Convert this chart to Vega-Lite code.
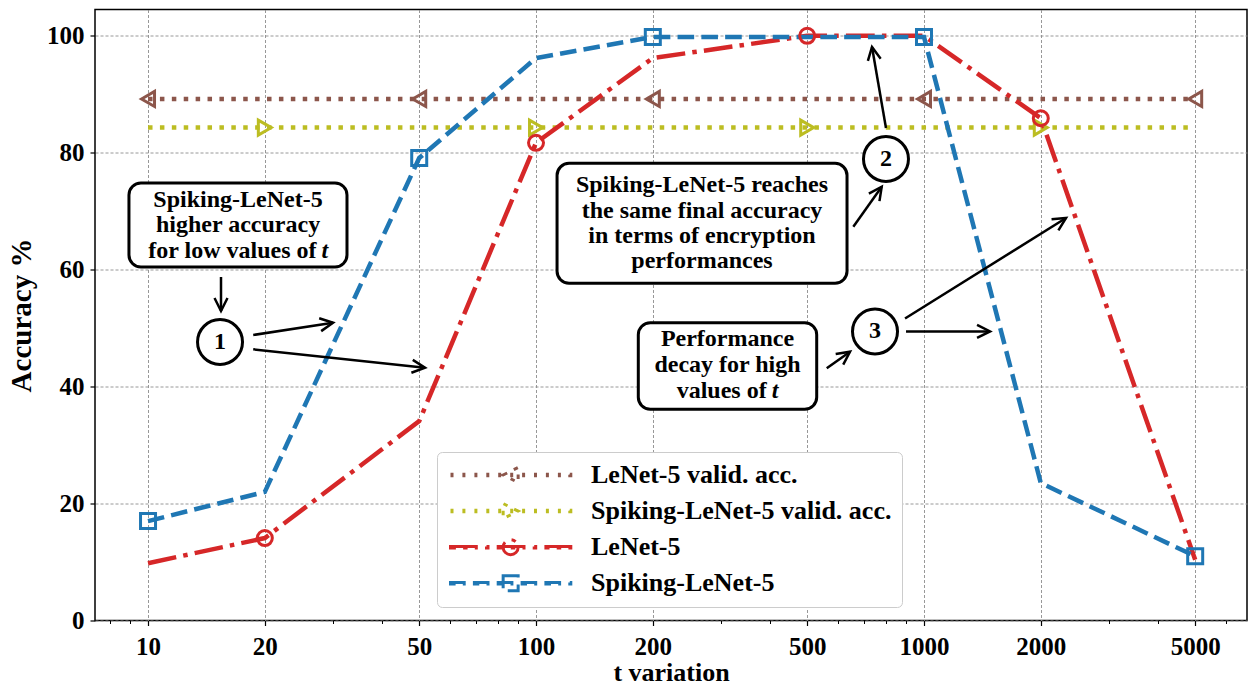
{
  "$schema": "https://vega.github.io/schema/vega-lite/v6.json",
  "width": 1152,
  "height": 611,
  "autosize": {"type": "none"},
  "padding": {"left": 95, "top": 9.5, "right": 2, "bottom": 67.5},
  "background": "white",
  "config": {
    "font": "Liberation Serif",
    "view": {"stroke": "black", "strokeWidth": 1.5},
    "axis": {
      "labelFont": "Liberation Serif", "labelFontSize": 25, "labelFontWeight": "bold", "labelColor": "black",
      "titleFont": "Liberation Serif", "titleFontSize": 27, "titleFontWeight": "bold", "titleColor": "black",
      "tickColor": "black", "tickSize": 5, "tickWidth": 1.2, "domain": false,
      "gridColor": "#8c8c8c", "gridDash": [3, 2], "gridWidth": 0.9, "gridOpacity": 1
    }
  },
  "datasets": {
    "series": [
      {"t": 10, "acc": 89.2, "series": "LeNet-5 valid. acc."},
      {"t": 20, "acc": 89.2, "series": "LeNet-5 valid. acc."},
      {"t": 50, "acc": 89.2, "series": "LeNet-5 valid. acc."},
      {"t": 100, "acc": 89.2, "series": "LeNet-5 valid. acc."},
      {"t": 200, "acc": 89.2, "series": "LeNet-5 valid. acc."},
      {"t": 500, "acc": 89.2, "series": "LeNet-5 valid. acc."},
      {"t": 1000, "acc": 89.2, "series": "LeNet-5 valid. acc."},
      {"t": 2000, "acc": 89.2, "series": "LeNet-5 valid. acc."},
      {"t": 5000, "acc": 89.2, "series": "LeNet-5 valid. acc."},
      {"t": 10, "acc": 84.3, "series": "Spiking-LeNet-5 valid. acc."},
      {"t": 20, "acc": 84.3, "series": "Spiking-LeNet-5 valid. acc."},
      {"t": 50, "acc": 84.3, "series": "Spiking-LeNet-5 valid. acc."},
      {"t": 100, "acc": 84.3, "series": "Spiking-LeNet-5 valid. acc."},
      {"t": 200, "acc": 84.3, "series": "Spiking-LeNet-5 valid. acc."},
      {"t": 500, "acc": 84.3, "series": "Spiking-LeNet-5 valid. acc."},
      {"t": 1000, "acc": 84.3, "series": "Spiking-LeNet-5 valid. acc."},
      {"t": 2000, "acc": 84.3, "series": "Spiking-LeNet-5 valid. acc."},
      {"t": 5000, "acc": 84.3, "series": "Spiking-LeNet-5 valid. acc."},
      {"t": 10, "acc": 9.8, "series": "LeNet-5"},
      {"t": 20, "acc": 14.1, "series": "LeNet-5"},
      {"t": 50, "acc": 34.1, "series": "LeNet-5"},
      {"t": 100, "acc": 81.7, "series": "LeNet-5"},
      {"t": 200, "acc": 96.2, "series": "LeNet-5"},
      {"t": 500, "acc": 100, "series": "LeNet-5"},
      {"t": 1000, "acc": 100, "series": "LeNet-5"},
      {"t": 2000, "acc": 85.9, "series": "LeNet-5"},
      {"t": 5000, "acc": 10.4, "series": "LeNet-5"},
      {"t": 10, "acc": 17.0, "series": "Spiking-LeNet-5"},
      {"t": 20, "acc": 22.0, "series": "Spiking-LeNet-5"},
      {"t": 50, "acc": 79.1, "series": "Spiking-LeNet-5"},
      {"t": 100, "acc": 96.2, "series": "Spiking-LeNet-5"},
      {"t": 200, "acc": 99.8, "series": "Spiking-LeNet-5"},
      {"t": 500, "acc": 99.8, "series": "Spiking-LeNet-5"},
      {"t": 1000, "acc": 99.8, "series": "Spiking-LeNet-5"},
      {"t": 2000, "acc": 23.5, "series": "Spiking-LeNet-5"},
      {"t": 5000, "acc": 11.0, "series": "Spiking-LeNet-5"}
    ],
    "boxes": [
      {"t1": 8.93, "t2": 32.57, "a1": 74.82, "a2": 60.46},
      {"t1": 113.3, "t2": 633.3, "a1": 78.19, "a2": 57.67},
      {"t1": 183.5, "t2": 529.0, "a1": 50.93, "a2": 36.12}
    ],
    "notes": [
      {"t": 17.06, "acc": 70.77, "text": "Spiking-LeNet-5"},
      {"t": 17.06, "acc": 66.39, "text": "higher accuracy"},
      {"t": 267.8, "acc": 73.34, "text": "Spiking-LeNet-5 reaches"},
      {"t": 267.8, "acc": 68.79, "text": "the same final  accuracy"},
      {"t": 267.8, "acc": 64.51, "text": "in terms of encryption"},
      {"t": 267.8, "acc": 60.24, "text": "performances"},
      {"t": 311.6, "acc": 47.0, "text": "Performance"},
      {"t": 311.6, "acc": 42.55, "text": "decay for high"}
    ],
    "notesEnd": [
      {"t": 27.18, "acc": 62.0, "text": "for low values of"},
      {"t": 393.0, "acc": 38.0, "text": "values of"}
    ],
    "notesItalic": [
      {"t": 27.18, "acc": 62.0, "text": "t"},
      {"t": 393.0, "acc": 38.0, "text": "t"}
    ],
    "circles": [
      {"t": 15.33, "acc": 47.63, "label": "1"},
      {"t": 798.0, "acc": 78.93, "label": "2"},
      {"t": 747.7, "acc": 49.43, "label": "3"}
    ],
    "arrows": [
      {"t": 15.42, "acc": 58.75, "t2": 15.42, "acc2": 52.93, "angle": 90},
      {"t": 18.67, "acc": 48.83, "t2": 29.98, "acc2": 50.93, "angle": -8.8},
      {"t": 18.67, "acc": 46.38, "t2": 51.75, "acc2": 43.24, "angle": 6.1},
      {"t": 798.0, "acc": 84.23, "t2": 734.5, "acc2": 98.09, "angle": -100.1},
      {"t": 657.4, "acc": 67.35, "t2": 778.0, "acc2": 74.19, "angle": -54.6},
      {"t": 893.5, "acc": 51.65, "t2": 2323, "acc2": 68.84, "angle": -31.8},
      {"t": 898.8, "acc": 49.43, "t2": 1480, "acc2": 49.43, "angle": 0},
      {"t": 561.4, "acc": 43.13, "t2": 644.7, "acc2": 45.97, "angle": -35.5}
    ]
  },
  "resolve": {"axis": {"x": "independent", "y": "independent"}},
  "layer": [
    {
      "data": {"name": "series"},
      "mark": {"type": "line", "strokeWidth": 4.5, "strokeCap": "butt", "opacity": 1},
      "encoding": {
        "x": {"field": "t", "type": "quantitative", "scale": {"type": "log", "domain": [7.3, 6800], "nice": false},
          "axis": {"orient": "bottom", "values": [10, 20, 50, 100, 200, 500, 1000, 2000, 5000], "format": "d", "title": "t variation", "titleFontSize": 26, "labelPadding": 9, "titlePadding": 0, "grid": true, "labelFlush": false, "labelOverlap": false}},
        "y": {"field": "acc", "type": "quantitative", "scale": {"domain": [0, 104.5], "nice": false, "zero": false},
          "axis": {"values": [0, 20, 40, 60, 80, 100], "title": "Accuracy %", "titleFontSize": 29, "labelPadding": 6, "titlePadding": 10, "grid": true}},
        "color": {"field": "series", "type": "nominal",
          "scale": {"domain": ["LeNet-5 valid. acc.", "Spiking-LeNet-5 valid. acc.", "LeNet-5", "Spiking-LeNet-5"], "range": ["#8c564b", "#bcbd22", "#d62728", "#1f77b4"]},
          "legend": {
            "title": null, "orient": "none", "legendX": 342, "legendY": 442.5, "direction": "vertical",
            "labelFont": "Liberation Serif", "labelFontSize": 26, "labelFontWeight": "bold", "labelColor": "black", "labelLimit": 500,
            "labelOffset": 118, "symbolSize": 4, "rowPadding": 8.1, "padding": 10,
            "strokeColor": "#cccccc", "fillColor": "white", "cornerRadius": 5,
            "symbolOpacity": 1, "symbolStrokeWidth": 3, "symbolFillColor": "transparent", "symbolDash": []
          }},
        "strokeDash": {"field": "series", "type": "nominal",
          "scale": {"domain": ["LeNet-5 valid. acc.", "Spiking-LeNet-5 valid. acc.", "LeNet-5", "Spiking-LeNet-5"], "range": [[4.5, 7.4], [4.5, 7.4], [28.8, 7.2, 4.5, 7.2], [16.6, 7.2]]},
          "legend": null}
      }
    },
    {
      "data": {"name": "series"},
      "transform": [{"filter": "false"}],
      "mark": {"type": "point", "filled": false, "strokeWidth": 3, "size": 4, "opacity": 1},
      "encoding": {
        "x": {"field": "t", "type": "quantitative", "scale": {"type": "log", "domain": [7.3, 6800], "nice": false}, "axis": null},
        "y": {"field": "acc", "type": "quantitative", "scale": {"domain": [0, 104.5], "nice": false, "zero": false}, "axis": null},
        "color": {"field": "series", "type": "nominal",
          "scale": {"domain": ["LeNet-5 valid. acc.", "Spiking-LeNet-5 valid. acc.", "LeNet-5", "Spiking-LeNet-5"], "range": ["#8c564b", "#bcbd22", "#d62728", "#1f77b4"]}},
        "shape": {"field": "series", "type": "nominal",
          "scale": {"domain": ["LeNet-5 valid. acc.", "Spiking-LeNet-5 valid. acc.", "LeNet-5", "Spiking-LeNet-5"],
            "range": [
              "M-9.5 -0.75H-8V0.75H-9.5ZM2.4 -0.75H3.9V0.75H2.4ZM14.4 -0.75H15.9V0.75H14.4ZM26.3 -0.75H27.8V0.75H26.3ZM38.2 -0.75H39.7V0.75H38.2ZM50.2 -0.75H51.7V0.75H50.2ZM62.1 -0.75H63.6V0.75H62.1ZM74 -0.75H75.5V0.75H74ZM85.9 -0.75H87.4V0.75H85.9ZM97.9 -0.75H99.4V0.75H97.9ZM109.8 -0.75H110.8V0.75H109.8ZM43.15 0L58.15 -7.5L58.15 7.5Z",
              "M-9.5 -0.75H-8V0.75H-9.5ZM2.4 -0.75H3.9V0.75H2.4ZM14.4 -0.75H15.9V0.75H14.4ZM26.3 -0.75H27.8V0.75H26.3ZM38.2 -0.75H39.7V0.75H38.2ZM50.2 -0.75H51.7V0.75H50.2ZM62.1 -0.75H63.6V0.75H62.1ZM74 -0.75H75.5V0.75H74ZM85.9 -0.75H87.4V0.75H85.9ZM97.9 -0.75H99.4V0.75H97.9ZM109.8 -0.75H110.8V0.75H109.8ZM58.15 0L43.15 -7.5L43.15 7.5Z",
              "M-9.5 -0.75H16.3V0.75H-9.5ZM26.5 -0.75H28V0.75H26.5ZM38.2 -0.75H64V0.75H38.2ZM74.2 -0.75H75.7V0.75H74.2ZM85.9 -0.75H110.8V0.75H85.9ZM58.15 0A7.5 7.5 0 1 1 43.15 0A7.5 7.5 0 1 1 58.15 0Z",
              "M-9.5 -0.75H4.2V0.75H-9.5ZM14.4 -0.75H28V0.75H14.4ZM38.2 -0.75H51.9V0.75H38.2ZM62.1 -0.75H75.7V0.75H62.1ZM85.9 -0.75H99.6V0.75H85.9ZM109.8 -0.75H110.8V0.75H109.8ZM43.15 -7.5H58.15V7.5H43.15Z"
            ]}}
      }
    },
    {
      "data": {"name": "series"},
      "transform": [{"filter": "datum.series === 'LeNet-5 valid. acc.' && indexof([10, 50, 200, 1000, 5000], datum.t) >= 0"}],
      "mark": {"type": "point", "shape": "triangle-left", "filled": false, "color": "#8c564b", "strokeWidth": 3, "size": 225, "opacity": 1},
      "encoding": {
        "x": {"field": "t", "type": "quantitative", "scale": {"type": "log", "domain": [7.3, 6800], "nice": false},
          "axis": {"orient": "bottom", "values": [8, 9, 30, 40, 60, 70, 80, 90, 300, 400, 600, 700, 800, 900, 3000, 4000, 6000], "labels": false, "grid": false, "ticks": true, "tickSize": 3, "tickWidth": 1, "title": null, "domain": false}},
        "y": {"field": "acc", "type": "quantitative", "scale": {"domain": [0, 104.5], "nice": false, "zero": false}, "axis": null}
      }
    },
    {
      "data": {"name": "series"},
      "transform": [{"filter": "datum.series === 'Spiking-LeNet-5 valid. acc.' && indexof([20, 100, 500, 2000], datum.t) >= 0"}],
      "mark": {"type": "point", "shape": "triangle-right", "filled": false, "color": "#bcbd22", "strokeWidth": 3, "size": 225, "opacity": 1},
      "encoding": {
        "x": {"field": "t", "type": "quantitative", "scale": {"type": "log", "domain": [7.3, 6800], "nice": false}, "axis": null},
        "y": {"field": "acc", "type": "quantitative", "scale": {"domain": [0, 104.5], "nice": false, "zero": false}, "axis": null}
      }
    },
    {
      "data": {"name": "series"},
      "transform": [{"filter": "datum.series === 'LeNet-5' && indexof([20, 100, 500, 2000], datum.t) >= 0"}],
      "mark": {"type": "point", "shape": "circle", "filled": false, "color": "#d62728", "strokeWidth": 3, "size": 225, "opacity": 1},
      "encoding": {
        "x": {"field": "t", "type": "quantitative", "scale": {"type": "log", "domain": [7.3, 6800], "nice": false}, "axis": null},
        "y": {"field": "acc", "type": "quantitative", "scale": {"domain": [0, 104.5], "nice": false, "zero": false}, "axis": null}
      }
    },
    {
      "data": {"name": "series"},
      "transform": [{"filter": "datum.series === 'Spiking-LeNet-5' && indexof([10, 50, 200, 1000, 5000], datum.t) >= 0"}],
      "mark": {"type": "point", "shape": "square", "filled": false, "color": "#1f77b4", "strokeWidth": 3, "size": 225, "opacity": 1},
      "encoding": {
        "x": {"field": "t", "type": "quantitative", "scale": {"type": "log", "domain": [7.3, 6800], "nice": false}, "axis": null},
        "y": {"field": "acc", "type": "quantitative", "scale": {"domain": [0, 104.5], "nice": false, "zero": false}, "axis": null}
      }
    },
    {
      "data": {"name": "boxes"},
      "mark": {"type": "rect", "fill": "white", "stroke": "black", "strokeWidth": 3, "cornerRadius": 12},
      "encoding": {
        "x": {"field": "t1", "type": "quantitative", "scale": {"type": "log", "domain": [7.3, 6800], "nice": false}, "axis": null},
        "x2": {"field": "t2"},
        "y": {"field": "a1", "type": "quantitative", "scale": {"domain": [0, 104.5], "nice": false, "zero": false}, "axis": null},
        "y2": {"field": "a2"}
      }
    },
    {
      "data": {"name": "notes"},
      "mark": {"type": "text", "font": "Liberation Serif", "fontSize": 24, "fontWeight": "bold", "align": "center", "baseline": "alphabetic", "color": "black"},
      "encoding": {
        "x": {"field": "t", "type": "quantitative", "scale": {"type": "log", "domain": [7.3, 6800], "nice": false}, "axis": null},
        "y": {"field": "acc", "type": "quantitative", "scale": {"domain": [0, 104.5], "nice": false, "zero": false}, "axis": null},
        "text": {"field": "text"}
      }
    },
    {
      "data": {"name": "notesEnd"},
      "mark": {"type": "text", "font": "Liberation Serif", "fontSize": 24, "fontWeight": "bold", "align": "right", "baseline": "alphabetic", "color": "black"},
      "encoding": {
        "x": {"field": "t", "type": "quantitative", "scale": {"type": "log", "domain": [7.3, 6800], "nice": false}, "axis": null},
        "y": {"field": "acc", "type": "quantitative", "scale": {"domain": [0, 104.5], "nice": false, "zero": false}, "axis": null},
        "text": {"field": "text"}
      }
    },
    {
      "data": {"name": "notesItalic"},
      "mark": {"type": "text", "font": "Liberation Serif", "fontSize": 24, "fontWeight": "bold", "fontStyle": "italic", "align": "left", "baseline": "alphabetic", "dx": 5, "color": "black"},
      "encoding": {
        "x": {"field": "t", "type": "quantitative", "scale": {"type": "log", "domain": [7.3, 6800], "nice": false}, "axis": null},
        "y": {"field": "acc", "type": "quantitative", "scale": {"domain": [0, 104.5], "nice": false, "zero": false}, "axis": null},
        "text": {"field": "text"}
      }
    },
    {
      "data": {"name": "circles"},
      "mark": {"type": "point", "shape": "circle", "size": 2025, "filled": true, "fill": "white", "stroke": "black", "strokeWidth": 3, "opacity": 1},
      "encoding": {
        "x": {"field": "t", "type": "quantitative", "scale": {"type": "log", "domain": [7.3, 6800], "nice": false}, "axis": null},
        "y": {"field": "acc", "type": "quantitative", "scale": {"domain": [0, 104.5], "nice": false, "zero": false}, "axis": null}
      }
    },
    {
      "data": {"name": "circles"},
      "mark": {"type": "text", "font": "Liberation Serif", "fontSize": 24, "fontWeight": "bold", "align": "center", "baseline": "middle", "color": "black"},
      "encoding": {
        "x": {"field": "t", "type": "quantitative", "scale": {"type": "log", "domain": [7.3, 6800], "nice": false}, "axis": null},
        "y": {"field": "acc", "type": "quantitative", "scale": {"domain": [0, 104.5], "nice": false, "zero": false}, "axis": null},
        "text": {"field": "label"}
      }
    },
    {
      "data": {"name": "arrows"},
      "mark": {"type": "rule", "strokeWidth": 2.5, "color": "black"},
      "encoding": {
        "x": {"field": "t", "type": "quantitative", "scale": {"type": "log", "domain": [7.3, 6800], "nice": false}, "axis": null},
        "y": {"field": "acc", "type": "quantitative", "scale": {"domain": [0, 104.5], "nice": false, "zero": false}, "axis": null},
        "x2": {"field": "t2"},
        "y2": {"field": "acc2"}
      }
    },
    {
      "data": {"name": "arrows"},
      "mark": {"type": "point", "shape": "M-1,-0.5L0,0L-1,0.5", "size": 676, "filled": false, "stroke": "black", "strokeWidth": 2.5, "opacity": 1},
      "encoding": {
        "x": {"field": "t2", "type": "quantitative", "scale": {"type": "log", "domain": [7.3, 6800], "nice": false}, "axis": null},
        "y": {"field": "acc2", "type": "quantitative", "scale": {"domain": [0, 104.5], "nice": false, "zero": false}, "axis": null},
        "angle": {"field": "angle", "type": "quantitative", "scale": null}
      }
    }
  ]
}
